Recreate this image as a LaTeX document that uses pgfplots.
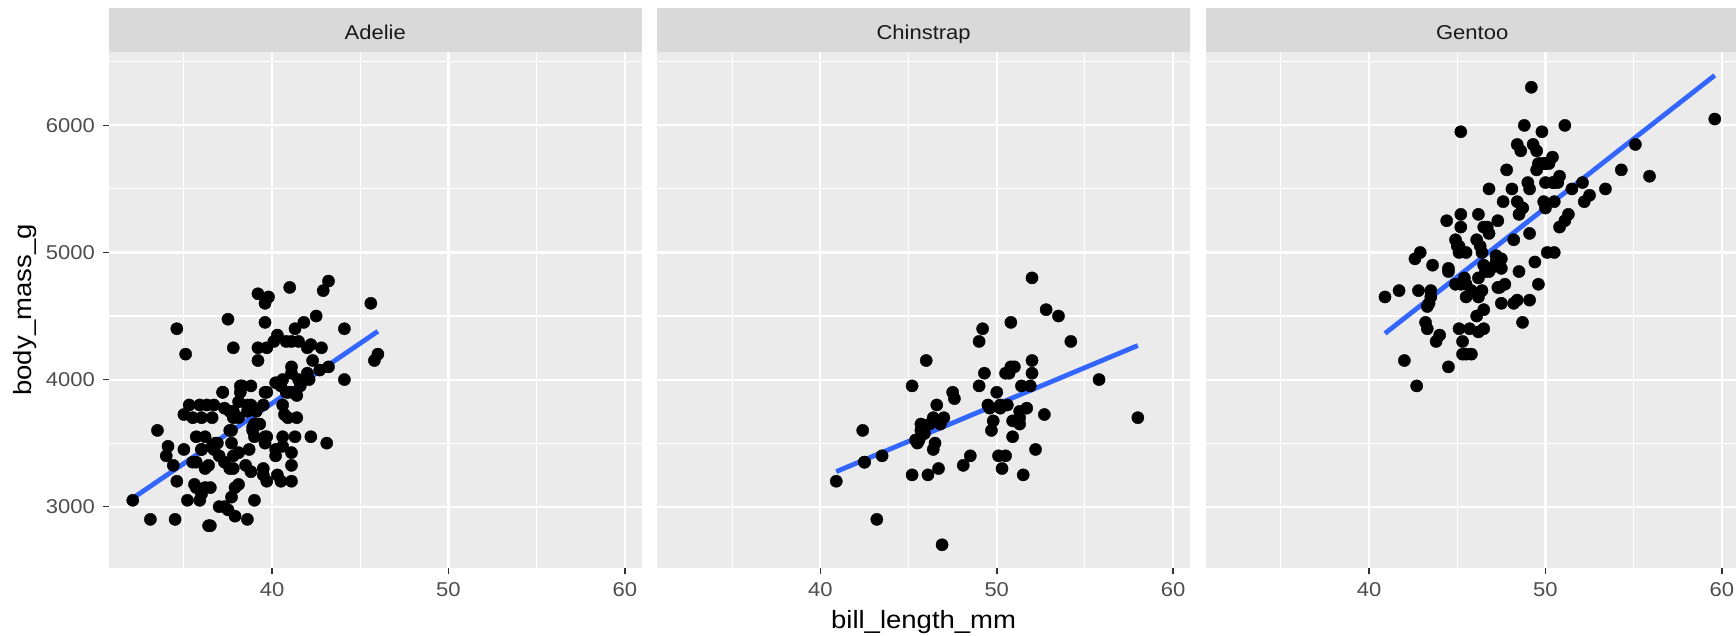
\documentclass[border=0pt]{standalone}
\usepackage{fontspec}
\setmainfont{Liberation Sans}[FakeStretch=1.1]
\usepackage{pgfplots}
\usepackage{pgfplotstable}
\pgfplotsset{compat=1.18}
\definecolor{panelgrey}{HTML}{EBEBEB}
\definecolor{stripgrey}{HTML}{D9D9D9}
\definecolor{ticklab}{HTML}{4D4D4D}
\definecolor{tickcol}{HTML}{333333}
\definecolor{striptext}{HTML}{1A1A1A}
\definecolor{smooth}{HTML}{3366FF}
\newcommand{\ticksize}{\fontsize{10}{12}\selectfont}
\newcommand{\titlesize}{\fontsize{12.5}{15}\selectfont}

\pgfplotstableread{
x y
39.1 3750
39.5 3800
40.3 3250
36.7 3450
39.3 3650
38.9 3625
39.2 4675
34.1 3475
42.0 4250
37.8 3300
37.8 3700
41.1 3200
38.6 3800
34.6 4400
36.6 3700
38.7 3450
42.5 4500
34.4 3325
46.0 4200
37.8 3400
37.7 3600
35.9 3800
38.2 3950
38.8 3800
35.3 3800
40.6 3550
40.5 3200
37.9 3150
40.5 3950
39.5 3250
37.2 3900
39.5 3300
40.9 3900
36.4 3325
39.2 4150
38.8 3950
42.2 3550
37.6 3300
39.8 4650
36.5 3150
40.8 3900
36.0 3100
44.1 4400
37.0 3000
39.6 4600
41.1 3425
37.5 2975
36.0 3450
42.3 4150
39.6 3500
40.1 4300
35.0 3450
42.0 4050
34.5 2900
41.4 3700
39.0 3550
40.6 3800
36.5 2850
37.6 3750
35.7 3150
41.3 4400
37.6 3600
41.1 4050
36.4 2850
41.6 3950
35.5 3350
41.1 4100
35.9 3050
41.8 4450
33.5 3600
39.7 3900
39.6 3550
45.8 4150
35.5 3700
42.8 4250
40.9 3700
37.2 3900
36.2 3550
42.1 4000
34.6 3200
42.9 4700
36.7 3800
35.1 4200
37.3 3350
41.3 3550
36.3 3800
36.9 3500
38.3 3950
38.9 3600
35.7 3550
41.1 4300
34.0 3400
39.6 4450
36.2 3300
40.8 4300
38.1 3700
40.3 4350
33.1 2900
43.2 4100
35.0 3725
41.0 4725
37.7 3075
37.8 4250
37.9 2925
39.7 3550
38.6 3750
38.2 3900
38.1 3175
43.2 4775
38.1 3825
45.6 4600
39.7 3200
42.2 4275
39.6 3900
42.7 4075
38.6 2900
37.3 3775
35.7 3350
41.1 3325
36.2 3150
37.7 3500
40.2 3450
41.4 3875
35.2 3050
40.6 4000
38.8 3275
41.5 4300
39.0 3050
44.1 4000
38.5 3325
43.1 3500
36.8 3500
37.5 4475
38.1 3425
41.1 3900
35.6 3175
40.2 3975
37.0 3400
39.7 4250
40.2 3400
40.6 3475
32.1 3050
40.7 3725
37.3 3000
39.0 3650
39.2 4250
36.6 3475
36.0 3450
37.8 3750
36.0 3700
41.5 4000
}\adelie

\pgfplotstableread{
x y
46.5 3500
50.0 3900
51.3 3650
45.4 3525
52.7 3725
45.2 3950
46.1 3250
51.3 3750
46.0 4150
51.3 3700
46.6 3800
51.7 3775
47.0 3700
52.0 4050
45.9 3575
50.5 4050
50.3 3300
58.0 3700
46.4 3450
49.2 4400
42.4 3600
48.5 3400
43.2 2900
50.6 3800
46.7 3300
52.0 4150
50.5 3400
49.5 3800
46.4 3700
52.8 4550
40.9 3200
54.2 4300
42.5 3350
51.0 4100
49.7 3600
47.5 3900
47.6 3850
52.0 4800
46.9 2700
53.5 4500
49.0 3950
46.2 3650
50.9 3550
45.5 3500
50.9 3675
50.8 4450
50.1 3400
49.0 4300
51.5 3250
49.8 3675
48.1 3325
51.4 3950
45.7 3600
50.7 4050
42.5 3350
52.2 3450
45.2 3250
49.3 4050
50.2 3800
45.6 3525
51.9 3950
46.8 3650
45.7 3650
55.8 4000
43.5 3400
49.6 3775
50.8 4100
50.2 3775
}\chinstrap

\pgfplotstableread{
x y
46.1 4500
50.0 5700
48.7 4450
50.0 5700
47.6 5400
46.5 4550
45.4 4800
46.7 5200
43.3 4400
46.8 5150
40.9 4650
49.0 5550
45.5 4650
48.4 5850
45.8 4200
49.3 5850
42.0 4150
49.2 6300
46.2 4800
48.7 5350
50.2 5700
45.1 5000
46.5 4400
46.3 5050
42.9 5000
46.1 5100
44.5 4100
47.8 5650
48.2 4600
50.0 5550
47.3 5250
42.8 4700
45.1 5050
59.6 6050
49.1 5150
48.4 5400
42.6 4950
44.4 5250
44.0 4350
48.7 5350
42.7 3950
49.6 5700
45.3 4300
49.6 4750
50.5 5550
43.6 4900
45.5 4200
50.5 5400
44.9 5100
45.2 5300
46.6 4850
48.5 5300
45.1 4400
50.1 5000
46.5 4900
45.0 5050
43.8 4300
45.5 5000
43.2 4450
50.4 5550
45.3 4200
46.2 5300
45.7 4400
54.3 5650
45.8 4700
49.8 5700
46.2 4650
49.5 5800
43.5 4700
50.7 5550
47.7 4750
46.4 5000
48.2 5100
46.5 5200
46.4 4700
48.6 5800
47.5 4600
51.1 6000
45.2 4750
45.2 5950
49.1 4625
52.5 5450
47.4 4725
50.0 5350
44.9 4750
50.8 5600
43.4 4600
51.3 5300
47.5 4875
52.1 5550
47.5 4950
52.2 5400
45.5 4750
49.5 5650
44.5 4850
50.8 5200
49.4 4925
46.9 4875
48.4 4625
51.1 5250
48.5 4850
55.9 5600
47.2 4975
49.1 5500
47.3 4725
46.8 5500
41.7 4700
53.4 5500
43.3 4575
48.1 5500
50.5 5000
49.8 5950
43.5 4650
51.5 5500
46.2 4375
55.1 5850
44.5 4875
48.8 6000
47.2 4925
46.8 4850
50.4 5750
45.2 5200
49.9 5400
}\gentoo

\pgfplotsset{
  facet/.style={
    anchor=south west,
    width=266.75pt, height=258.3pt, scale only axis,
    xmin=30.725, xmax=60.975, ymin=2515, ymax=6580,
    axis background/.style={fill=panelgrey},
    axis line style={draw=none},
    xtick={40,50,60}, xticklabels={40,50,60},
    ytick={3000,4000,5000,6000},
    minor xtick={35,45,55}, minor ytick={3500,4500,5500,6500},
    grid=both,
    major grid style={draw=white, line width=1.07pt},
    minor grid style={draw=white, line width=0.53pt},
    tick align=outside, tick pos=left,
    major tick length=2.75pt, minor tick length=0pt,
    tick style={draw=tickcol, line width=0.8pt},
    ticklabel style={font=\ticksize, text=ticklab},
    xticklabel style={anchor=north, inner sep=0pt, yshift=-3.95pt},
    yticklabel style={anchor=east, inner sep=0pt, xshift=-3.85pt},
    scaled ticks=false,
  },
  pts/.style={only marks, mark=*, mark size=3.05pt, mark options={fill=black, draw=black, line width=0.2pt}},
  fit/.style={no marks, draw=smooth, line width=2.4pt},
}

\begin{document}
\begin{tikzpicture}[x=1pt,y=1pt]
\useasboundingbox (0,0) rectangle (868,318);
% strips
\fill[stripgrey] (54.25,292.15) rectangle (321.0,313.85);
\fill[stripgrey] (328.4,292.15) rectangle (595.15,313.85);
\fill[stripgrey] (602.75,292.15) rectangle (869.5,313.85);
\node[anchor=base, inner sep=0pt, text=striptext, font=\ticksize] at (187.6,298.35) {Adelie};
\node[anchor=base, inner sep=0pt, text=striptext, font=\ticksize] at (461.8,298.35) {Chinstrap};
\node[anchor=base, inner sep=0pt, text=striptext, font=\ticksize] at (736.1,298.35) {Gentoo};

\begin{axis}[facet, at={(54.25pt,33.85pt)}, yticklabels={3000,4000,5000,6000}]
\addplot[pts] table[x=x,y=y] {\adelie};
\addplot[fit] coordinates {(32.1,3066) (46.0,4380)};
\end{axis}

\begin{axis}[facet, at={(328.4pt,33.85pt)}, yticklabels={}, ytick style={draw=none}]
\addplot[pts] table[x=x,y=y] {\chinstrap};
\addplot[fit] coordinates {(40.9,3276) (58.0,4268)};
\end{axis}

\begin{axis}[facet, at={(602.75pt,33.85pt)}, yticklabels={}, ytick style={draw=none}]
\addplot[pts] table[x=x,y=y] {\gentoo};
\addplot[fit] coordinates {(40.9,4363) (59.6,6394)};
\end{axis}

\node[anchor=north, inner sep=0pt, font=\titlesize] at (461.8,13) {bill\_length\_mm};
\node[anchor=north, inner sep=0pt, rotate=90, font=\titlesize] at (6.7,163) {body\_mass\_g};
\end{tikzpicture}
\end{document}
